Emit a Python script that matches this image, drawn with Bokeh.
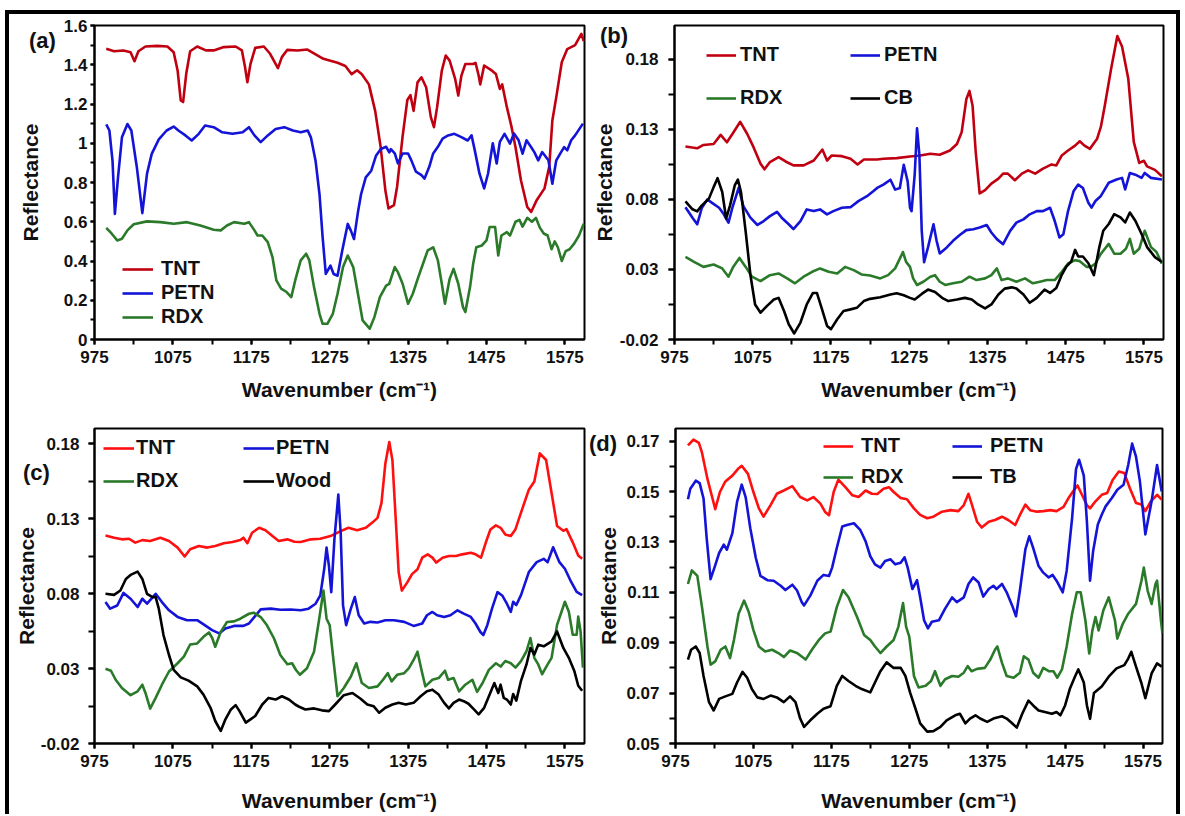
from bokeh.plotting import figure
from bokeh.models import Range1d, FixedTicker, CustomJSTickFormatter, Legend, LegendItem, Div
from bokeh.layouts import column, row
from bokeh.embed import file_html
from bokeh.resources import INLINE

FONT = "Liberation Sans"

# ---------------- tick labels ----------------
X_TICKS = [975, 1075, 1175, 1275, 1375, 1475, 1575]
X_MINOR = [975, 1025, 1075, 1125, 1175, 1225, 1275, 1325, 1375, 1425, 1475, 1525, 1575]
A_Y_TICKS = [0, 0.2, 0.4, 0.6, 0.8, 1.0, 1.2, 1.4, 1.6]
A_Y_MINOR = [0, 0.1, 0.2, 0.3, 0.4, 0.5, 0.6, 0.7, 0.8, 0.9, 1.0, 1.1, 1.2, 1.3, 1.4, 1.5, 1.6]
BC_Y_TICKS = [-0.02, 0.03, 0.08, 0.13, 0.18]
BC_Y_MINOR = [-0.02, 0.005, 0.03, 0.055, 0.08, 0.105, 0.13, 0.155, 0.18]
D_Y_TICKS = [0.05, 0.07, 0.09, 0.11, 0.13, 0.15, 0.17]
D_Y_MINOR = [0.05, 0.06, 0.07, 0.08, 0.09, 0.10, 0.11, 0.12, 0.13, 0.14, 0.15, 0.16, 0.17]

# ---------------- panel (a) ----------------
A_TNT = [(990,1.481),(1000,1.469),(1012,1.473),(1021,1.464),(1026,1.418),(1031,1.469),(1040,1.493),(1055,1.496),(1068,1.493),(1076,1.464),(1081,1.371),(1085,1.218),(1088,1.21),(1092,1.354),(1097,1.469),(1106,1.493),(1117,1.473),(1127,1.473),(1140,1.49),(1155,1.493),(1163,1.473),(1167,1.388),(1170,1.311),(1174,1.405),(1180,1.486),(1191,1.493),(1199,1.456),(1206,1.405),(1209,1.383),(1214,1.439),(1221,1.476),(1234,1.473),(1246,1.478),(1267,1.43),(1285,1.41),(1295,1.394),(1303,1.352),(1310,1.372),(1316,1.352),(1325,1.30),(1333,1.165),(1340,0.98),(1346,0.76),(1350,0.668),(1357,0.685),(1361,0.78),(1368,1.035),(1374,1.22),(1378,1.245),(1382,1.165),(1387,1.31),(1392,1.336),(1398,1.285),(1404,1.133),(1408,1.082),(1412,1.184),(1418,1.37),(1423,1.447),(1428,1.421),(1435,1.328),(1439,1.243),(1443,1.345),(1448,1.404),(1458,1.404),(1461,1.41),(1465,1.345),(1467,1.30),(1472,1.396),(1482,1.37),(1487,1.353),(1492,1.277),(1495,1.30),(1501,1.184),(1507,1.082),(1512,0.98),(1519,0.81),(1527,0.675),(1532,0.65),(1539,0.71),(1549,0.77),(1555,0.88),(1559,1.116),(1564,1.235),(1571,1.413),(1578,1.48),(1588,1.50),(1596,1.557),(1599,1.52)]
A_PETN = [(990,1.096),(994,1.065),(998,0.91),(1001,0.64),(1005,0.826),(1010,1.03),(1017,1.098),(1022,1.065),(1029,0.878),(1036,0.644),(1042,0.845),(1048,0.946),(1057,1.02),(1067,1.065),(1076,1.085),(1082,1.065),(1091,1.04),(1099,1.014),(1108,1.048),(1116,1.09),(1127,1.082),(1138,1.056),(1151,1.048),(1164,1.056),(1172,1.082),(1179,1.04),(1187,1.006),(1196,1.04),(1206,1.073),(1217,1.082),(1228,1.065),(1238,1.056),(1247,1.065),(1251,1.03),(1257,0.91),(1262,0.74),(1266,0.52),(1270,0.334),(1276,0.376),(1280,0.334),(1285,0.325),(1291,0.453),(1298,0.589),(1302,0.555),(1306,0.512),(1311,0.648),(1315,0.74),(1321,0.826),(1328,0.86),(1334,0.936),(1340,0.97),(1347,0.982),(1351,0.953),(1353,0.97),(1358,0.948),(1362,0.897),(1368,0.948),(1375,0.948),(1379,0.914),(1385,0.855),(1392,0.838),(1396,0.82),(1402,0.88),(1407,0.948),(1413,0.982),(1419,1.024),(1426,1.04),(1434,1.048),(1443,1.031),(1451,1.014),(1456,1.04),(1460,0.965),(1466,0.846),(1472,0.77),(1477,0.846),(1483,1.0),(1488,0.897),(1492,1.007),(1498,1.048),(1505,0.998),(1510,1.05),(1516,1.015),(1521,0.947),(1526,1.015),(1532,0.98),(1536,0.955),(1541,0.913),(1546,0.955),(1554,0.913),(1559,0.794),(1564,0.913),(1569,0.947),(1574,0.98),(1578,0.964),(1583,1.015),(1588,1.04),(1598,1.10)]
A_RDX = [(990,0.569),(997,0.539),(1004,0.505),(1010,0.513),(1017,0.556),(1025,0.587),(1042,0.602),(1059,0.598),(1076,0.59),(1093,0.598),(1110,0.581),(1127,0.559),(1136,0.556),(1144,0.581),(1153,0.598),(1166,0.59),(1172,0.598),(1179,0.556),(1183,0.53),(1189,0.53),(1196,0.496),(1202,0.42),(1207,0.301),(1213,0.259),(1220,0.242),(1226,0.216),(1231,0.301),(1238,0.403),(1245,0.437),(1249,0.403),(1255,0.267),(1262,0.131),(1266,0.08),(1272,0.08),(1279,0.131),(1285,0.233),(1292,0.369),(1298,0.428),(1305,0.369),(1311,0.233),(1317,0.097),(1326,0.055),(1332,0.114),(1339,0.216),(1347,0.275),(1351,0.284),(1358,0.369),(1362,0.343),(1368,0.284),(1375,0.182),(1381,0.233),(1388,0.318),(1394,0.386),(1400,0.454),(1407,0.47),(1413,0.403),(1418,0.284),(1422,0.182),(1428,0.309),(1433,0.36),(1439,0.284),(1445,0.165),(1448,0.14),(1454,0.267),(1458,0.386),(1462,0.47),(1469,0.479),(1475,0.505),(1479,0.573),(1486,0.573),(1490,0.428),(1494,0.53),(1501,0.547),(1505,0.53),(1512,0.60),(1517,0.61),(1521,0.575),(1527,0.62),(1533,0.60),(1538,0.62),(1543,0.57),(1548,0.54),(1553,0.53),(1558,0.46),(1562,0.50),(1566,0.47),(1571,0.40),(1576,0.45),(1581,0.46),(1587,0.49),(1593,0.53),(1599,0.59)]

# ---------------- panel (b) ----------------
B_TNT = [(989,0.1177),(1004,0.1164),(1012,0.1188),(1025,0.1195),(1034,0.126),(1042,0.1207),(1049,0.1266),(1059,0.1353),(1068,0.1266),(1076,0.1172),(1085,0.1054),(1090,0.1014),(1097,0.1066),(1108,0.1101),(1117,0.107),(1127,0.1042),(1140,0.1042),(1153,0.1077),(1164,0.1155),(1170,0.1077),(1176,0.1113),(1189,0.1108),(1200,0.1089),(1209,0.1049),(1217,0.1084),(1234,0.1084),(1242,0.1089),(1259,0.1094),(1276,0.1106),(1289,0.1113),(1302,0.1125),(1314,0.1118),(1327,0.1148),(1336,0.1195),(1342,0.1278),(1348,0.1514),(1352,0.1573),(1356,0.1467),(1360,0.1136),(1365,0.0842),(1372,0.0865),(1380,0.0912),(1389,0.0948),(1395,0.0983),(1401,0.0983),(1410,0.0936),(1419,0.0983),(1427,0.1007),(1436,0.0983),(1446,0.1019),(1457,0.1049),(1463,0.1042),(1470,0.1113),(1478,0.1148),(1487,0.1183),(1493,0.1214),(1499,0.1183),(1506,0.116),(1511,0.12),(1515,0.123),(1520,0.1318),(1525,0.147),(1533,0.173),(1541,0.1965),(1547,0.189),(1555,0.166),(1562,0.121),(1569,0.106),(1575,0.1075),(1579,0.1035),(1589,0.101),(1598,0.0965)]
B_PETN = [(989,0.0744),(998,0.0669),(1004,0.0622),(1010,0.074),(1017,0.0799),(1023,0.0775),(1032,0.074),(1038,0.0693),(1044,0.0634),(1049,0.074),(1057,0.0882),(1063,0.0752),(1072,0.0669),(1081,0.0617),(1089,0.0645),(1097,0.068),(1106,0.0711),(1112,0.0669),(1121,0.0622),(1127,0.0587),(1136,0.0645),(1144,0.0728),(1153,0.0716),(1161,0.0728),(1170,0.0693),(1178,0.0716),(1189,0.074),(1200,0.0744),(1210,0.0787),(1221,0.0822),(1229,0.0857),(1234,0.0881),(1242,0.0905),(1251,0.094),(1257,0.0869),(1263,0.0881),(1268,0.1046),(1273,0.0928),(1276,0.074),(1278,0.0716),(1282,0.0976),(1285,0.1306),(1288,0.1117),(1291,0.0575),(1294,0.0351),(1299,0.0457),(1306,0.0622),(1310,0.0504),(1314,0.0414),(1323,0.0457),(1331,0.0504),(1340,0.0547),(1348,0.058),(1357,0.0587),(1365,0.0599),(1374,0.0617),(1380,0.0563),(1387,0.0516),(1395,0.048),(1404,0.0575),(1412,0.0634),(1421,0.0657),(1429,0.0693),(1438,0.0716),(1446,0.0716),(1455,0.074),(1461,0.0645),(1467,0.0528),(1472,0.0551),(1478,0.0716),(1485,0.0857),(1491,0.0905),(1497,0.0881),(1504,0.0775),(1508,0.0741),(1513,0.0788),(1520,0.0824),(1530,0.0918),(1540,0.0941),(1547,0.0953),(1551,0.087),(1557,0.0988),(1564,0.0976),(1572,0.0953),(1576,0.0988),(1584,0.0953),(1598,0.0941)]
B_RDX = [(989,0.0389),(1000,0.0354),(1012,0.0318),(1025,0.0335),(1036,0.0307),(1044,0.0248),(1050,0.0318),(1058,0.0382),(1066,0.0318),(1074,0.0248),(1085,0.0217),(1097,0.0259),(1108,0.0271),(1119,0.0236),(1129,0.0201),(1140,0.0248),(1151,0.0283),(1161,0.0307),(1172,0.0283),(1183,0.0271),(1193,0.0318),(1204,0.0295),(1214,0.0264),(1225,0.0257),(1238,0.0236),(1248,0.0259),(1257,0.0307),(1263,0.0377),(1267,0.0424),(1271,0.0354),(1276,0.0318),(1280,0.0236),(1285,0.0189),(1293,0.0212),(1302,0.0248),(1308,0.0259),(1314,0.0212),(1321,0.0189),(1331,0.0201),(1342,0.0212),(1352,0.0248),(1361,0.0224),(1372,0.0236),(1380,0.0259),(1387,0.0307),(1393,0.0224),(1401,0.0236),(1412,0.0212),(1423,0.0236),(1433,0.0201),(1442,0.0212),(1451,0.0224),(1461,0.0224),(1470,0.0283),(1478,0.0342),(1487,0.0366),(1493,0.0359),(1502,0.0318),(1507,0.0318),(1513,0.0341),(1520,0.0412),(1530,0.0482),(1537,0.0412),(1545,0.0412),(1552,0.0447),(1557,0.0518),(1562,0.0412),(1569,0.0447),(1576,0.0576),(1584,0.0459),(1591,0.0424),(1598,0.0341)]
B_CB = [(989,0.0786),(998,0.0729),(1004,0.0714),(1010,0.0757),(1019,0.0805),(1025,0.0887),(1030,0.0951),(1036,0.0852),(1041,0.0663),(1046,0.0757),(1052,0.0899),(1056,0.0941),(1060,0.0852),(1066,0.0568),(1072,0.0262),(1078,0.005),(1085,-0.0009),(1093,0.0038),(1102,0.0085),(1108,0.0097),(1115,0.0003),(1121,-0.0091),(1128,-0.0157),(1136,-0.0079),(1144,0.005),(1152,0.0132),(1157,0.0132),(1163,0.0026),(1170,-0.0103),(1175,-0.0126),(1183,-0.0056),(1191,0.0003),(1200,0.0015),(1208,0.0026),(1217,0.0074),(1225,0.009),(1238,0.0102),(1251,0.0121),(1259,0.013),(1268,0.0116),(1276,0.0097),(1282,0.0085),(1291,0.0125),(1299,0.0156),(1308,0.0139),(1317,0.0097),(1325,0.0074),(1336,0.0085),(1346,0.0097),(1355,0.0085),(1363,0.005),(1372,0.0022),(1380,0.005),(1389,0.0121),(1397,0.0163),(1406,0.0172),(1412,0.0163),(1421,0.0121),(1429,0.0062),(1438,0.0097),(1444,0.0132),(1448,0.0156),(1455,0.0132),(1463,0.0168),(1470,0.0262),(1476,0.0321),(1482,0.0356),(1487,0.0439),(1491,0.0392),(1497,0.0392),(1504,0.0344),(1511,0.0259),(1518,0.0459),(1523,0.0576),(1530,0.0624),(1537,0.0694),(1545,0.0671),(1551,0.0635),(1557,0.0706),(1564,0.0647),(1572,0.0553),(1579,0.0459),(1589,0.0388),(1598,0.0353)]

# ---------------- panel (c) ----------------
C_TNT = [(989,0.1187),(1000,0.1172),(1010,0.1161),(1019,0.1165),(1027,0.1139),(1036,0.1156),(1046,0.115),(1059,0.1172),(1070,0.115),(1081,0.1106),(1090,0.1047),(1097,0.1095),(1108,0.1117),(1119,0.1106),(1129,0.1117),(1140,0.1135),(1151,0.1143),(1161,0.1156),(1165,0.1172),(1170,0.1135),(1176,0.1205),(1185,0.1238),(1193,0.1222),(1202,0.1183),(1210,0.115),(1221,0.1161),(1230,0.1145),(1238,0.1143),(1251,0.1161),(1263,0.1165),(1276,0.1183),(1289,0.1216),(1299,0.1238),(1310,0.1222),(1321,0.1238),(1329,0.1271),(1336,0.1304),(1341,0.1403),(1346,0.1667),(1351,0.181),(1355,0.1689),(1359,0.1315),(1363,0.094),(1367,0.0819),(1374,0.0874),(1380,0.0929),(1387,0.0962),(1393,0.1039),(1400,0.1061),(1406,0.1039),(1411,0.1006),(1419,0.1039),(1427,0.105),(1436,0.105),(1444,0.1061),(1455,0.1072),(1461,0.1061),(1468,0.1039),(1474,0.1138),(1480,0.1227),(1487,0.1254),(1493,0.1238),(1499,0.1194),(1506,0.1183),(1512,0.1229),(1519,0.1339),(1529,0.1492),(1536,0.1547),(1543,0.1734),(1551,0.169),(1558,0.147),(1565,0.125),(1573,0.1218),(1577,0.1229),(1585,0.1141),(1592,0.1053),(1597,0.1031)]
C_PETN = [(989,0.0743),(995,0.0699),(1004,0.072),(1012,0.0804),(1021,0.0765),(1030,0.071),(1036,0.0765),(1042,0.0732),(1053,0.0798),(1061,0.0743),(1070,0.0688),(1081,0.0644),(1093,0.0622),(1106,0.0622),(1117,0.0584),(1125,0.0556),(1134,0.0534),(1142,0.0567),(1153,0.0584),(1165,0.0584),(1172,0.06),(1178,0.0637),(1187,0.0694),(1200,0.0699),(1212,0.0692),(1225,0.0693),(1238,0.0688),(1248,0.0699),(1257,0.0732),(1263,0.0787),(1268,0.0963),(1271,0.1106),(1274,0.0985),(1277,0.0809),(1281,0.1161),(1286,0.1459),(1289,0.1205),(1292,0.0721),(1296,0.0589),(1302,0.0699),(1307,0.0776),(1312,0.0655),(1319,0.06),(1327,0.0611),(1336,0.0607),(1346,0.0622),(1357,0.0622),(1370,0.0611),(1382,0.0584),(1393,0.06),(1399,0.0655),(1406,0.0677),(1412,0.0655),(1421,0.0644),(1429,0.0655),(1438,0.0688),(1446,0.0666),(1455,0.0644),(1461,0.06),(1467,0.0545),(1471,0.0523),(1476,0.0589),(1482,0.0699),(1489,0.0809),(1495,0.0787),(1501,0.0732),(1506,0.0677),(1509,0.0745),(1513,0.0723),(1519,0.0789),(1529,0.0943),(1539,0.1009),(1548,0.1031),(1553,0.1009),(1560,0.1108),(1568,0.1009),(1575,0.0965),(1583,0.0877),(1590,0.0811),(1597,0.0789)]
C_RDX = [(989,0.0298),(996,0.0285),(1002,0.0225),(1010,0.017),(1021,0.0122),(1030,0.0148),(1036,0.0192),(1040,0.0137),(1046,0.0033),(1053,0.0104),(1061,0.0192),(1070,0.028),(1081,0.0335),(1089,0.0379),(1097,0.046),(1106,0.0467),(1114,0.0511),(1121,0.054),(1125,0.0505),(1129,0.0445),(1136,0.0544),(1144,0.061),(1153,0.0614),(1161,0.0632),(1172,0.0665),(1178,0.0672),(1187,0.0643),(1195,0.0588),(1204,0.05),(1212,0.039),(1221,0.0328),(1227,0.0335),(1232,0.029),(1237,0.0258),(1246,0.0302),(1255,0.0412),(1261,0.061),(1267,0.0819),(1271,0.0632),(1275,0.0588),(1280,0.0346),(1285,0.0115),(1293,0.017),(1302,0.0247),(1309,0.0335),(1316,0.0203),(1325,0.017),(1336,0.0181),(1343,0.0225),(1349,0.0269),(1354,0.0214),(1361,0.0258),(1370,0.0269),(1376,0.0302),(1382,0.0357),(1387,0.0412),(1392,0.0291),(1397,0.0181),(1406,0.0225),(1414,0.0236),(1422,0.0285),(1426,0.0225),(1433,0.0236),(1440,0.0148),(1448,0.0192),(1457,0.0225),(1463,0.0144),(1470,0.0203),(1478,0.0291),(1487,0.0335),(1493,0.0313),(1499,0.035),(1506,0.0335),(1512,0.0306),(1519,0.0349),(1526,0.0415),(1531,0.0503),(1536,0.0371),(1541,0.0327),(1546,0.0262),(1553,0.0327),(1558,0.0371),(1565,0.0591),(1575,0.0745),(1580,0.0679),(1585,0.0525),(1590,0.0525),(1592,0.0646),(1595,0.0547),(1598,0.0306)]
C_WOOD = [(989,0.0798),(1000,0.0791),(1008,0.082),(1015,0.0897),(1021,0.0924),(1030,0.0946),(1036,0.0897),(1042,0.0798),(1049,0.0776),(1053,0.0776),(1057,0.0699),(1063,0.0523),(1070,0.039),(1076,0.0291),(1085,0.0241),(1095,0.0219),(1106,0.0181),(1114,0.0126),(1123,0.0038),(1129,-0.005),(1136,-0.0116),(1142,-0.0039),(1149,0.0027),(1155,0.0056),(1160,0.0016),(1168,-0.0061),(1174,-0.0039),(1180,-0.0017),(1189,0.006),(1197,0.0104),(1206,0.0093),(1214,0.0115),(1223,0.0093),(1231,0.006),(1236,0.0045),(1244,0.0027),(1255,0.0034),(1265,0.0021),(1274,0.0016),(1282,0.006),(1293,0.0122),(1304,0.0137),(1314,0.01),(1323,0.006),(1331,0.0049),(1338,0.0005),(1346,0.0038),(1355,0.006),(1363,0.0071),(1372,0.006),(1382,0.0071),(1391,0.0115),(1399,0.0148),(1406,0.0159),(1414,0.0126),(1421,0.0071),(1427,0.0034),(1433,0.0071),(1440,0.0093),(1446,0.0082),(1452,0.0065),(1459,0.0027),(1465,-0.0006),(1472,0.0038),(1479,0.0126),(1485,0.0203),(1490,0.0137),(1493,0.0192),(1497,0.0104),(1501,0.0093),(1506,0.006),(1509,0.013),(1513,0.0086),(1519,0.0218),(1526,0.0327),(1531,0.0437),(1536,0.0393),(1541,0.0459),(1548,0.0448),(1558,0.0481),(1565,0.0547),(1573,0.0437),(1580,0.0371),(1587,0.0284),(1592,0.0185),(1597,0.0152)]

# ---------------- panel (d) ----------------
D_TNT = [(991,0.1683),(998,0.1706),(1005,0.1693),(1009,0.1654),(1016,0.155),(1022,0.1478),(1026,0.143),(1032,0.1498),(1039,0.154),(1048,0.1563),(1055,0.1589),(1060,0.1602),(1068,0.157),(1075,0.1498),(1082,0.1433),(1088,0.14),(1097,0.1446),(1105,0.1491),(1114,0.1504),(1125,0.1521),(1135,0.1478),(1144,0.1465),(1152,0.1478),(1161,0.1452),(1167,0.1419),(1172,0.1406),(1178,0.1498),(1184,0.1547),(1193,0.1517),(1202,0.1485),(1210,0.1478),(1219,0.1504),(1227,0.1491),(1234,0.149),(1242,0.1511),(1249,0.1517),(1255,0.1498),(1264,0.1474),(1272,0.1469),(1281,0.1433),(1289,0.1407),(1298,0.1394),(1306,0.14),(1317,0.142),(1328,0.1426),(1338,0.1422),(1345,0.1446),(1351,0.1491),(1355,0.1452),(1362,0.138),(1368,0.1357),(1377,0.138),(1385,0.1387),(1394,0.14),(1402,0.1387),(1411,0.1367),(1417,0.1407),(1424,0.1448),(1430,0.1426),(1439,0.142),(1447,0.1422),(1456,0.1426),(1464,0.1422),(1473,0.1439),(1479,0.1472),(1486,0.1504),(1491,0.1524),(1496,0.1491),(1503,0.1446),(1507,0.1433),(1514,0.1461),(1522,0.1487),(1529,0.1494),(1536,0.1546),(1544,0.1579),(1551,0.1573),(1558,0.1514),(1566,0.1454),(1573,0.1448),(1578,0.1422),(1585,0.1461),(1593,0.1487),(1599,0.1468)]
D_PETN = [(991,0.1469),(994,0.1511),(1001,0.1543),(1006,0.1533),(1011,0.1472),(1015,0.1315),(1020,0.1152),(1025,0.1198),(1031,0.1256),(1037,0.1289),(1041,0.1269),(1048,0.1335),(1054,0.1459),(1060,0.1527),(1065,0.1478),(1071,0.1354),(1078,0.1237),(1084,0.1165),(1093,0.1148),(1101,0.1146),(1110,0.1126),(1116,0.1109),(1125,0.113),(1131,0.1107),(1137,0.1061),(1140,0.1048),(1148,0.1087),(1157,0.1146),(1165,0.1169),(1172,0.1165),(1176,0.1198),(1182,0.1276),(1189,0.1361),(1195,0.1367),(1204,0.1374),(1212,0.1348),(1219,0.1302),(1225,0.1243),(1231,0.1211),(1238,0.1198),(1244,0.1224),(1251,0.1231),(1257,0.1211),(1264,0.1217),(1269,0.1239),(1273,0.1198),(1279,0.1113),(1285,0.1148),(1289,0.108),(1294,0.0989),(1299,0.0957),(1304,0.0983),(1313,0.0989),(1321,0.1035),(1330,0.108),(1336,0.1061),(1345,0.108),(1351,0.1133),(1357,0.1159),(1364,0.1139),(1370,0.1083),(1377,0.1113),(1383,0.1126),(1387,0.1113),(1394,0.1133),(1400,0.11),(1407,0.1048),(1412,0.1005),(1417,0.1107),(1424,0.127),(1429,0.1322),(1434,0.1276),(1441,0.1204),(1447,0.1178),(1454,0.1159),(1459,0.1169),(1464,0.1146),(1472,0.11),(1477,0.1185),(1484,0.1394),(1489,0.1589),(1493,0.1626),(1499,0.1563),(1503,0.138),(1507,0.1146),(1511,0.1264),(1517,0.1369),(1522,0.1408),(1527,0.1441),(1535,0.1474),(1542,0.1507),(1550,0.1527),(1556,0.1605),(1561,0.169),(1566,0.1638),(1571,0.154),(1578,0.133),(1586,0.1461),(1593,0.1605),(1599,0.15)]
D_RDX = [(991,0.1133),(996,0.1187),(1003,0.1165),(1009,0.1041),(1016,0.0885),(1020,0.0813),(1026,0.0826),(1033,0.0872),(1039,0.0885),(1045,0.0839),(1050,0.0911),(1056,0.1015),(1063,0.1067),(1069,0.1022),(1075,0.095),(1082,0.0885),(1090,0.0865),(1099,0.0872),(1107,0.0859),(1114,0.0843),(1122,0.0869),(1131,0.0859),(1142,0.0833),(1150,0.0872),(1159,0.0911),(1167,0.0937),(1174,0.0944),(1182,0.1041),(1190,0.1109),(1197,0.108),(1208,0.1002),(1217,0.0931),(1225,0.0911),(1231,0.0885),(1238,0.0859),(1246,0.0885),(1255,0.0911),(1261,0.0963),(1267,0.1057),(1271,0.0963),(1275,0.0924),(1281,0.0768),(1287,0.0722),(1296,0.0729),(1303,0.0748),(1308,0.0787),(1315,0.0729),(1321,0.0755),(1330,0.0768),(1338,0.0765),(1345,0.0781),(1350,0.0807),(1355,0.0787),(1362,0.0796),(1372,0.08),(1379,0.0833),(1385,0.0872),(1388,0.0885),(1394,0.082),(1400,0.0768),(1409,0.0761),(1417,0.0781),(1422,0.0846),(1428,0.0833),(1434,0.0781),(1441,0.0761),(1447,0.08),(1454,0.0787),(1460,0.0787),(1465,0.0761),(1471,0.0794),(1477,0.0885),(1484,0.1015),(1490,0.11),(1495,0.11),(1501,0.0989),(1506,0.0857),(1510,0.0949),(1514,0.1002),(1518,0.0949),(1524,0.1028),(1531,0.108),(1539,0.0988),(1542,0.0916),(1549,0.0975),(1556,0.1015),(1566,0.1054),(1573,0.1146),(1576,0.1198),(1581,0.1106),(1586,0.1054),(1591,0.1133),(1593,0.1146),(1598,0.0988),(1600,0.0936)]
D_TB = [(991,0.0833),(995,0.0872),(1001,0.0885),(1006,0.0859),(1011,0.0768),(1018,0.0664),(1024,0.0631),(1031,0.0677),(1039,0.0687),(1048,0.0697),(1054,0.0742),(1061,0.0784),(1067,0.0761),(1073,0.0716),(1080,0.0683),(1088,0.0677),(1097,0.069),(1105,0.0683),(1114,0.0664),(1122,0.0687),(1129,0.0664),(1135,0.0599),(1140,0.0566),(1148,0.0592),(1157,0.0618),(1165,0.0638),(1174,0.0648),(1182,0.0729),(1189,0.0768),(1197,0.0748),(1206,0.0729),(1214,0.0716),(1225,0.0703),(1231,0.0742),(1238,0.0787),(1246,0.0822),(1255,0.08),(1264,0.08),(1270,0.0768),(1276,0.0703),(1283,0.0638),(1289,0.058),(1298,0.0547),(1306,0.0549),(1315,0.0566),(1323,0.0592),(1334,0.0612),(1340,0.0618),(1347,0.058),(1353,0.0599),(1360,0.0612),(1366,0.0599),(1375,0.0586),(1383,0.0599),(1394,0.0608),(1400,0.0599),(1407,0.058),(1413,0.0563),(1420,0.0618),(1428,0.067),(1434,0.0651),(1441,0.0631),(1449,0.0625),(1458,0.0618),(1464,0.0625),(1469,0.0612),(1475,0.0651),(1481,0.0716),(1488,0.0768),(1492,0.0794),(1499,0.0742),(1503,0.0651),(1507,0.0598),(1512,0.07),(1522,0.0726),(1531,0.0765),(1541,0.0798),(1551,0.0811),(1556,0.0837),(1560,0.0864),(1566,0.0805),(1573,0.0739),(1578,0.068),(1586,0.0778),(1593,0.0818),(1599,0.0805)]

DARK_RED = "#C00010"
RED = "#FF1010"
BLUE = "#1414D8"
GREEN = "#2A7A2A"
BLACK = "#000000"

TICK_FMT = CustomJSTickFormatter(code="return String(parseFloat(tick.toFixed(3)));")


def style_axes(p, yticks, yminor, y_tick_out, y_std, y_lbl_std, x_lbl_std):
    xa = p.xaxis[0]
    ya = p.yaxis[0]
    xa.ticker = FixedTicker(ticks=X_TICKS, minor_ticks=X_MINOR)
    ya.ticker = FixedTicker(ticks=yticks, minor_ticks=yminor)
    ya.formatter = TICK_FMT
    xa.axis_label = "Wavenumber (cm\u207b\u00b9)"
    ya.axis_label = "Reflectance"
    for ax in (xa, ya):
        ax.axis_line_color = "black"
        ax.axis_line_width = 2
        ax.major_tick_line_width = 2
        ax.minor_tick_line_width = 2
        ax.major_tick_in = 0
        ax.minor_tick_in = 0
        ax.major_label_text_font = FONT
        ax.major_label_text_font_style = "bold"
        ax.major_label_text_font_size = "17px"
        ax.major_label_text_color = "#111111"
        ax.axis_label_text_font = FONT
        ax.axis_label_text_font_style = "bold"
        ax.axis_label_text_font_size = "21px"
        ax.axis_label_text_color = "#111111"
    xa.major_tick_out = 5
    xa.minor_tick_out = 5
    xa.major_label_standoff = 6
    xa.axis_label_standoff = x_lbl_std
    ya.major_tick_out = y_tick_out
    ya.minor_tick_out = y_tick_out
    ya.major_label_standoff = y_std
    ya.axis_label_standoff = y_lbl_std


def make_panel(width, height, borders, y_rng, yticks, yminor, axis_cfg,
               curves, legend_cols, leg_cfg):
    p = figure(width=width, height=height, x_range=Range1d(975, 1600),
               y_range=Range1d(*y_rng), output_backend="svg", toolbar_location=None,
               min_border_left=borders[0], min_border_right=borders[1],
               min_border_top=borders[2], min_border_bottom=borders[3])
    p.grid.visible = False
    p.outline_line_color = "black"
    p.outline_line_width = 2
    p.outline_line_alpha = 1
    p.background_fill_color = "white"
    p.border_fill_color = "white"
    style_axes(p, yticks, yminor, *axis_cfg)

    rends = {}
    for name, data, color in curves:
        xs = [d[0] for d in data]
        ys = [d[1] for d in data]
        rends[name] = p.line(xs, ys, line_color=color, line_width=2.6, line_join="round")

    gw, stand, spacing = leg_cfg
    for names, loc in legend_cols:
        lg = Legend(items=[LegendItem(label=n, renderers=[rends[n]]) for n in names],
                    location=loc, orientation="vertical",
                    glyph_width=gw, glyph_height=20, label_height=20,
                    label_standoff=stand, spacing=spacing, padding=0, margin=0,
                    border_line_color=None, background_fill_alpha=0,
                    label_text_font=FONT, label_text_font_style="bold",
                    label_text_font_size="20px", label_text_color="#111111")
        p.add_layout(lg)
    return p


def make_tag(text, left, top):
    return Div(text=text, styles={"position": "absolute", "left": f"{left}px", "top": f"{top}px",
                                  "font-family": FONT, "font-weight": "bold", "font-size": "22px",
                                  "line-height": "1", "color": "#111111", "z-index": "5"})


pa = make_panel(578, 391, (85, 3, 11, 66), (0, 1.6), A_Y_TICKS, A_Y_MINOR, (4, 3, 19, 12),
                [("TNT", A_TNT, DARK_RED), ("PETN", A_PETN, BLUE), ("RDX", A_RDX, GREEN)],
                [(["TNT", "PETN", "RDX"], (28, 11))], (31, 8, 1))

pb = make_panel(589, 391, (87, 13, 9, 65), (-0.02, 0.204), BC_Y_TICKS, BC_Y_MINOR, (6, 10, 1, 12),
                [("TNT", B_TNT, DARK_RED), ("PETN", B_PETN, BLUE), ("RDX", B_RDX, GREEN), ("CB", B_CB, BLACK)],
                [(["TNT", "RDX"], (32, 230)), (["PETN", "CB"], (176, 230))], (30, 4, 20))

pc = make_panel(578, 409, (85, 3, 23, 69), (-0.02, 0.19), BC_Y_TICKS, BC_Y_MINOR, (6, 9, 0, 19),
                [("TNT", C_TNT, RED), ("PETN", C_PETN, BLUE), ("RDX", C_RDX, GREEN), ("Wood", C_WOOD, BLACK)],
                [(["TNT", "RDX"], (9, 251)), (["PETN", "Wood"], (149, 251))], (31, 2, 10))

pd_ = make_panel(589, 409, (88, 14, 23, 68), (0.05, 0.175), D_Y_TICKS, D_Y_MINOR, (6, 10, 3, 19),
                 [("TNT", D_TNT, RED), ("PETN", D_PETN, BLUE), ("RDX", D_RDX, GREEN), ("TB", D_TB, BLACK)],
                 [(["TNT", "RDX"], (148, 255)), (["PETN", "TB"], (277, 255))], (30, 8, 8))

tags = [make_tag("(a)", 15, 11), make_tag("(b)", 586, 6),
        make_tag("(c)", 9, 443), make_tag("(d)", 575, 414)]

layout = column(row(pa, pb), row(pc, pd_), *tags, margin=(10, 0, 0, 5),
                styles={"border-left": "4px solid #000", "border-top": "4px solid #000",
                        "border-right": "4px solid #000", "position": "relative"})

open("out.html", "w").write(file_html(layout, INLINE))
